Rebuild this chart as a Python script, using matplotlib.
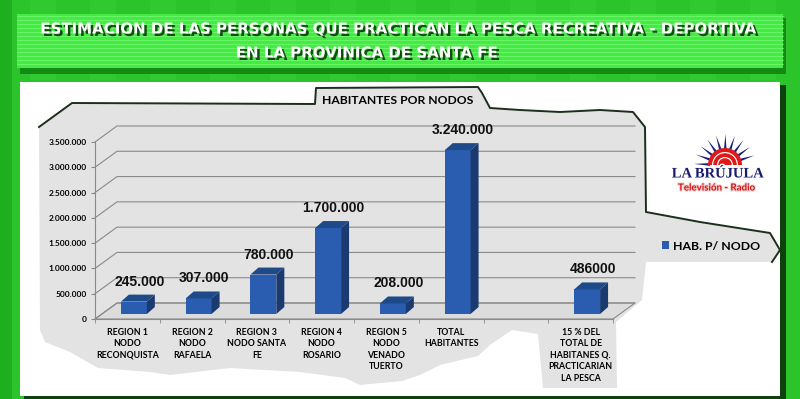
import numpy as np
import matplotlib as mpl
import matplotlib.pyplot as plt
import matplotlib.patheffects as pe
from matplotlib import transforms
from matplotlib.patches import Polygon, Rectangle, Wedge
from matplotlib.font_manager import fontManager

mpl.use("Agg")

categories = [
    "REGION 1\nNODO\nRECONQUISTA",
    "REGION 2\nNODO\nRAFAELA",
    "REGION 3\nNODO SANTA\nFE",
    "REGION 4\nNODO\nROSARIO",
    "REGION 5\nNODO\nVENADO\nTUERTO",
    "TOTAL\nHABITANTES",
    "",
    "15 % DEL\nTOTAL DE\nHABITANES Q.\nPRACTICARIAN\nLA PESCA",
]
values = [245000, 307000, 780000, 1700000, 208000, 3240000, np.nan, 486000]
value_labels = ["245.000", "307.000", "780.000", "1.700.000", "208.000",
                "3.240.000", "", "486000"]
yticks = np.arange(0, 3500001, 500000)
ytick_labels = [f"{v:,}".replace(",", ".") for v in yticks]

title = ("ESTIMACION DE LAS PERSONAS QUE PRACTICAN LA PESCA RECREATIVA - DEPORTIVA",
         "EN LA PROVINICA DE SANTA FE")
chart_title = "HABITANTES POR NODOS"
series_name = "HAB. P/ NODO"

# narrow bold face for the banner if installed
names = {f.name for f in fontManager.ttflist}
NARROW = "Liberation Sans Narrow" if "Liberation Sans Narrow" in names else "DejaVu Sans"
CAL = "Lato"

FRONT = "#2a5db0"
SIDE = "#1a3a70"
TOP = "#1f4a8a"
GRAY = "#e3e3e3"
GRID = "#8a8a8a"

W, H = 800, 399
fig = plt.figure(figsize=(W / 100, H / 100), dpi=100)
fig.patch.set_facecolor("#2bc42b")

# background decoration, pixel coordinates
bg = fig.add_axes([0, 0, 1, 1])
bg.set_xlim(0, W)
bg.set_ylim(H, 0)
bg.axis("off")
bg.set_zorder(0)

for x0 in range(30, W, 60):
    bg.add_patch(Rectangle((x0, 0), 26, 80, color="#3ad63a", alpha=0.35, lw=0))
bg.add_patch(Rectangle((0, 0), 12, H, color="#1fae1f", lw=0))

# title banner
bg.add_patch(Rectangle((20, 18), 766, 56, color="#138a13", lw=0))
bg.add_patch(Rectangle((17, 14), 766, 54, color="#45ea45", lw=0))
for yy in np.arange(16, 68, 4):
    bg.plot([17, 783], [yy, yy], color="#86ff86", lw=0.7, alpha=0.55)
shadow = [pe.withSimplePatchShadow(offset=(1.8, -1.8), shadow_rgbFace="#0b3d0b", alpha=0.9)]
t1 = bg.text(399, 29, title[0], color="white", fontsize=12, fontweight="bold",
             family=NARROW, ha="center", va="center", path_effects=shadow)
t2 = bg.text(367, 53, title[1], color="white", fontsize=12, fontweight="bold",
             family=NARROW, ha="center", va="center", path_effects=shadow)
# fit the first line to the banner width seen in the picture
rend = fig.canvas.get_renderer()
w1 = t1.get_window_extent(rend).width
size = 12 * 714 / w1
t1.set_fontsize(size)
t2.set_fontsize(size)

# white panel
bg.add_patch(Rectangle((24, 85), 762, 314, color="#0c420c", lw=0))
bg.add_patch(Rectangle((20, 82), 760, 314, color="white", lw=0))

# torn gray paper
paper = [(39, 127), (72, 103), (315, 104), (316, 88), (478, 87), (482, 93),
         (490, 108), (520, 110), (560, 112), (600, 110), (633, 112), (645, 127),
         (646, 212), (700, 222), (770, 233), (780, 250), (772, 262), (700, 262),
         (646, 262), (642, 300), (616, 322), (617, 388), (543, 388), (538, 334),
         (512, 330), (490, 345), (478, 356), (440, 365), (420, 375), (402, 381),
         (360, 385), (345, 378), (300, 372), (230, 368), (170, 375), (150, 372),
         (98, 368), (70, 352), (45, 342), (40, 330)]
bg.add_patch(Polygon(paper, closed=True, facecolor=GRAY, edgecolor="none"))
edge = paper[:17]
bg.plot([p[0] for p in edge], [p[1] for p in edge], color="#1b2f1b", lw=1.4)

bg.text(398, 100, chart_title, fontsize=8.7, fontweight="bold", family=CAL,
        ha="center", va="center", color="black")

# logo
sun_c = (725, 165)
for ang in np.linspace(18, 178, 10):
    a = np.deg2rad(ang)
    tip = (sun_c[0] + 31 * np.cos(a), sun_c[1] - 31 * np.sin(a))
    b1 = (sun_c[0] + 15 * np.cos(a - 0.09), sun_c[1] - 15 * np.sin(a - 0.09))
    b2 = (sun_c[0] + 15 * np.cos(a + 0.09), sun_c[1] - 15 * np.sin(a + 0.09))
    bg.add_patch(Polygon([b1, tip, b2], color="#1d1d7a", lw=0))
bg.add_patch(Wedge(sun_c, 17, 180, 360, color="#e01818", lw=0))
for r in (8, 13):
    bg.add_patch(Wedge(sun_c, r, 180, 360, width=1.2, color="white", lw=0))
bg.text(718, 174, "LA BRÚJULA", fontsize=10.5, fontweight="bold", family="Liberation Serif",
        color="#1b1b70", ha="center", va="center",
        path_effects=[pe.withStroke(linewidth=2, foreground="white")])
bg.text(717, 188, "Televisión - Radio", fontsize=7, fontweight="bold", family=CAL,
        color="#cc1515", ha="center", va="center",
        path_effects=[pe.withStroke(linewidth=1.5, foreground="#f3d0d0")])

# chart axes: front plane of the 3D box
x0, x1, y0, y1 = 95, 613, 319, 142
ax = fig.add_axes([x0 / W, (H - y0) / H, (x1 - x0) / W, (y0 - y1) / H])
ax.set_zorder(1)
ax.patch.set_alpha(0)
n = len(categories)
ax.set_xlim(-0.5, n - 0.5)
ax.set_ylim(0, 3500000)
for s in ("top", "right"):
    ax.spines[s].set_visible(False)
for s in ("left", "bottom"):
    ax.spines[s].set_color(GRID)
    ax.spines[s].set_linewidth(0.8)

DEPTH = (22, 16)
BAR_OFF = (6.5, 5)
BAR_DEPTH = (8, 7)
ident = transforms.IdentityTransform()


def px(x, y, dx=0, dy=0):
    p = ax.transData.transform((x, y))
    return (p[0] + dx, p[1] + dy)


# floor and back wall grid
floor = [px(-0.5, 0), px(n - 0.5, 0), px(n - 0.5, 0, *DEPTH), px(-0.5, 0, *DEPTH)]
ax.add_patch(Polygon(floor, closed=True, facecolor="#dcdcdc", edgecolor=GRID,
                     lw=0.8, transform=ident, clip_on=False, zorder=0.5))
for v in yticks:
    a, b, c = px(-0.5, v), px(-0.5, v, *DEPTH), px(n - 0.5, v, *DEPTH)
    ax.plot([a[0], b[0], c[0]], [a[1], b[1], c[1]], color=GRID, lw=0.8,
            transform=ident, clip_on=False, zorder=0.6)

ax.set_yticks(yticks, ytick_labels)
ax.tick_params(axis="y", length=3, color=GRID, pad=3, labelsize=6)
ax.set_xticks(range(n), categories)
ax.tick_params(axis="x", length=0, pad=6.5, labelsize=6.3)
ax.set_xticks(np.arange(n + 1) - 0.5, minor=True)
ax.tick_params(axis="x", which="minor", length=3, color=GRID)
for lab in ax.get_xticklabels() + ax.get_yticklabels():
    lab.set_family(CAL)
    lab.set_fontweight("bold")
    lab.set_linespacing(1.35)

# bars
xs = np.arange(n)
mask = ~np.isnan(values)
bw = 0.4
front_tr = transforms.offset_copy(ax.transData, fig=fig, x=BAR_OFF[0], y=BAR_OFF[1],
                                  units="dots")
bars = ax.bar(xs[mask], np.array(values)[mask], width=bw, color=FRONT,
              label=series_name, zorder=2)
for p in bars:
    p.set_transform(front_tr)
    p.set_clip_on(False)
for x, v in zip(xs[mask], np.array(values)[mask]):
    l_t = px(x - bw / 2, v, *BAR_OFF)
    r_b = px(x + bw / 2, 0, *BAR_OFF)
    r_t = px(x + bw / 2, v, *BAR_OFF)
    d = BAR_DEPTH
    side = [r_b, r_t, (r_t[0] + d[0], r_t[1] + d[1]), (r_b[0] + d[0], r_b[1] + d[1])]
    top = [l_t, r_t, (r_t[0] + d[0], r_t[1] + d[1]), (l_t[0] + d[0], l_t[1] + d[1])]
    ax.add_patch(Polygon(side, closed=True, color=SIDE, lw=0, transform=ident,
                         clip_on=False, zorder=2))
    ax.add_patch(Polygon(top, closed=True, color=TOP, lw=0, transform=ident,
                         clip_on=False, zorder=2))

for x, v, lab in zip(xs, values, value_labels):
    if np.isnan(v):
        continue
    ax.annotate(lab, (x, v), xytext=(12, 25), textcoords="offset pixels",
                ha="center", va="center", fontsize=10, fontweight="bold",
                family="Liberation Sans", color="#111111", annotation_clip=False)

leg = fig.legend(handles=[bars], loc="center left",
                 bbox_to_anchor=(651 / W, 1 - 246 / H), frameon=False,
                 handlelength=0.6, handleheight=0.6, handletextpad=0.3,
                 prop={"family": CAL, "weight": "bold", "size": 8.8})

fig.savefig("out.png", dpi=100, facecolor=fig.get_facecolor())
